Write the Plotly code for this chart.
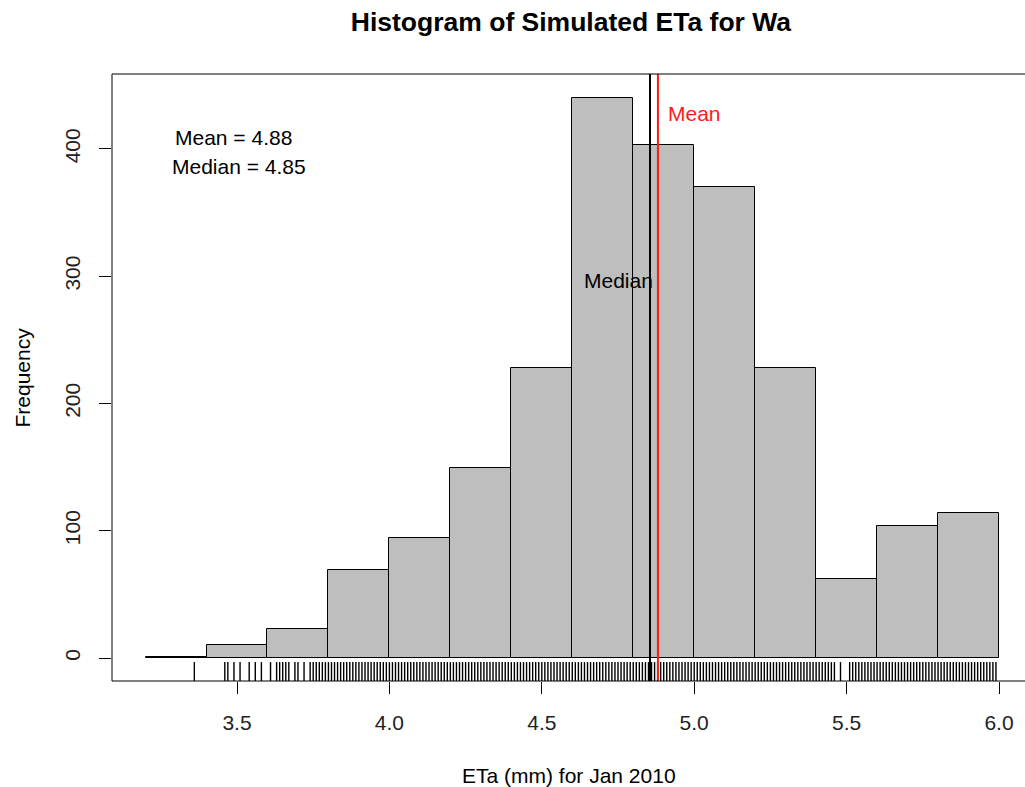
import plotly.graph_objects as go

# ---------------- data ----------------
bin_left = [3.2, 3.4, 3.6, 3.8, 4.0, 4.2, 4.4, 4.6, 4.8, 5.0, 5.2, 5.4, 5.6, 5.8]
bin_width = 0.2
counts = [1, 10, 23, 69, 94, 149, 228, 440, 403, 370, 228, 62, 104, 114]

mean_val = 4.881
median_val = 4.855
mean_label = "Mean = 4.88"
median_label = "Median = 4.85"

x_ticks = [3.5, 4.0, 4.5, 5.0, 5.5, 6.0]
x_tick_text = ["3.5", "4.0", "4.5", "5.0", "5.5", "6.0"]
y_ticks = [0, 100, 200, 300, 400]
y_tick_text = ["0", "100", "200", "300", "400"]

# distinct simulated values shown in the rug
rug_values = [
    3.36, 3.46, 3.47, 3.49, 3.51, 3.54, 3.56, 3.58,
    3.61, 3.63, 3.64, 3.65, 3.66, 3.67, 3.69, 3.70, 3.72, 3.74, 3.75, 3.76, 3.77, 3.78, 3.79,
    3.80, 3.81, 3.82, 3.83, 3.84, 3.85, 3.86, 3.87, 3.88, 3.89,
    3.90, 3.91, 3.92, 3.93, 3.94, 3.95, 3.96, 3.97, 3.98, 3.99,
    4.00, 4.01, 4.02, 4.03, 4.04, 4.05, 4.06, 4.07, 4.08, 4.09,
    4.10, 4.11, 4.12, 4.13, 4.14, 4.15, 4.16, 4.17, 4.18, 4.19,
    4.20, 4.21, 4.22, 4.23, 4.24, 4.25, 4.26, 4.27, 4.28, 4.29,
    4.30, 4.31, 4.32, 4.33, 4.34, 4.35, 4.36, 4.37, 4.38, 4.39,
    4.40, 4.41, 4.42, 4.43, 4.44, 4.45, 4.46, 4.47, 4.48, 4.49,
    4.50, 4.51, 4.52, 4.53, 4.54, 4.55, 4.56, 4.57, 4.58, 4.59,
    4.60, 4.61, 4.62, 4.63, 4.64, 4.65, 4.66, 4.67, 4.68, 4.69,
    4.70, 4.71, 4.72, 4.73, 4.74, 4.75, 4.76, 4.77, 4.78, 4.79,
    4.80, 4.81, 4.82, 4.83, 4.84, 4.85, 4.86, 4.87, 4.88, 4.89,
    4.90, 4.91, 4.92, 4.93, 4.94, 4.95, 4.96, 4.97, 4.98, 4.99,
    5.00, 5.01, 5.02, 5.03, 5.04, 5.05, 5.06, 5.07, 5.08, 5.09,
    5.10, 5.11, 5.12, 5.13, 5.14, 5.15, 5.16, 5.17, 5.18, 5.19,
    5.20, 5.21, 5.22, 5.23, 5.24, 5.25, 5.26, 5.27, 5.28, 5.29,
    5.30, 5.31, 5.32, 5.33, 5.34, 5.35, 5.36, 5.37, 5.38, 5.39,
    5.40, 5.41, 5.42, 5.43, 5.44, 5.45, 5.46, 5.48,
    5.51, 5.52, 5.53, 5.54, 5.55, 5.56, 5.57, 5.58, 5.59,
    5.60, 5.61, 5.62, 5.63, 5.64, 5.65, 5.66, 5.67, 5.68, 5.69,
    5.70, 5.71, 5.72, 5.73, 5.74, 5.75, 5.76, 5.77, 5.78, 5.79,
    5.80, 5.81, 5.82, 5.83, 5.84, 5.85, 5.86, 5.87, 5.88, 5.89,
    5.90, 5.91, 5.92, 5.93, 5.94, 5.95, 5.96, 5.97, 5.98, 5.99,
]

# ---------------- figure ----------------
FONT = "Liberation Sans, Arial, sans-serif"
TXT = 21
X_RANGE = [3.0899, 6.0853]
Y_RANGE = [-18.07, 458.9]
RUG_TOP = -3.2

centers = [b + bin_width / 2 for b in bin_left]

fig = go.Figure()
fig.add_trace(go.Bar(
    x=centers, y=counts, width=bin_width,
    marker=dict(color="#bebebe", line=dict(color="black", width=1)),
    hoverinfo="skip", showlegend=False,
))

rx, ry = [], []
for v in rug_values:
    rx += [v, v, None]
    ry += [Y_RANGE[0], RUG_TOP, None]
fig.add_trace(go.Scatter(
    x=rx, y=ry, mode="lines",
    line=dict(color="black", width=1.4),
    hoverinfo="skip", showlegend=False,
))

shapes = [
    dict(type="line", xref="x", yref="paper", x0=median_val, x1=median_val, y0=0, y1=1,
         line=dict(color="black", width=2)),
    dict(type="line", xref="x", yref="paper", x0=mean_val, x1=mean_val, y0=0, y1=1,
         line=dict(color="#ff1a1a", width=2)),
    # box (right side falls outside the visible page)
    dict(type="line", xref="paper", yref="paper", x0=0, x1=1, y0=1, y1=1,
         line=dict(color="black", width=1)),
    dict(type="line", xref="paper", yref="paper", x0=0, x1=1, y0=0, y1=0,
         line=dict(color="black", width=1)),
    dict(type="line", xref="paper", yref="paper", x0=0, x1=0, y0=0, y1=1,
         line=dict(color="black", width=1)),
]

annotations = [
    dict(x=3.487, y=409, xref="x", yref="y", text=mean_label, showarrow=False,
         font=dict(family=FONT, size=TXT, color="black"), xanchor="center", yanchor="middle"),
    dict(x=3.507, y=386, xref="x", yref="y", text=median_label, showarrow=False,
         font=dict(family=FONT, size=TXT, color="black"), xanchor="center", yanchor="middle"),
    dict(x=4.75, y=297, xref="x", yref="y", text="Median", showarrow=False,
         font=dict(family=FONT, size=TXT, color="black"), xanchor="center", yanchor="middle"),
    dict(x=5.0, y=428, xref="x", yref="y", text="Mean", showarrow=False,
         font=dict(family=FONT, size=TXT, color="#ff1a1a"), xanchor="center", yanchor="middle"),
    dict(x=0.5, y=0, xref="paper", yref="paper", yshift=-94, text="ETa (mm) for Jan 2010",
         showarrow=False, font=dict(family=FONT, size=TXT, color="black"),
         xanchor="center", yanchor="middle"),
    dict(x=0, y=0.5, xref="paper", yref="paper", xshift=-90, text="Frequency", textangle=-90,
         showarrow=False, font=dict(family=FONT, size=TXT, color="black"),
         xanchor="center", yanchor="middle"),
]

fig.update_layout(
    width=1025, height=787,
    margin=dict(l=112, r=0, t=74, b=106, pad=0),
    paper_bgcolor="white", plot_bgcolor="white",
    bargap=0, showlegend=False,
    title=dict(text="<b>Histogram of Simulated ETa for Wa</b>", x=0.557, xanchor="center",
               y=1 - 22 / 787, yanchor="middle", yref="container",
               font=dict(family=FONT, size=26.5, color="black")),
    shapes=shapes, annotations=annotations,
    xaxis=dict(range=X_RANGE, tickvals=x_ticks, ticktext=x_tick_text,
               ticks="outside", ticklen=12, tickwidth=1, tickcolor="black",
               showgrid=False, zeroline=False, showline=False,
               ticklabelstandoff=11,
               tickfont=dict(family=FONT, size=TXT, color="#222")),
    yaxis=dict(range=Y_RANGE, tickvals=y_ticks, ticktext=y_tick_text,
               ticks="outside", ticklen=12, tickwidth=1, tickcolor="black",
               showgrid=False, zeroline=False, showline=False,
               tickangle=-90, ticklabelstandoff=11,
               tickfont=dict(family=FONT, size=TXT, color="#222")),
)

fig.write_html("out.html")
